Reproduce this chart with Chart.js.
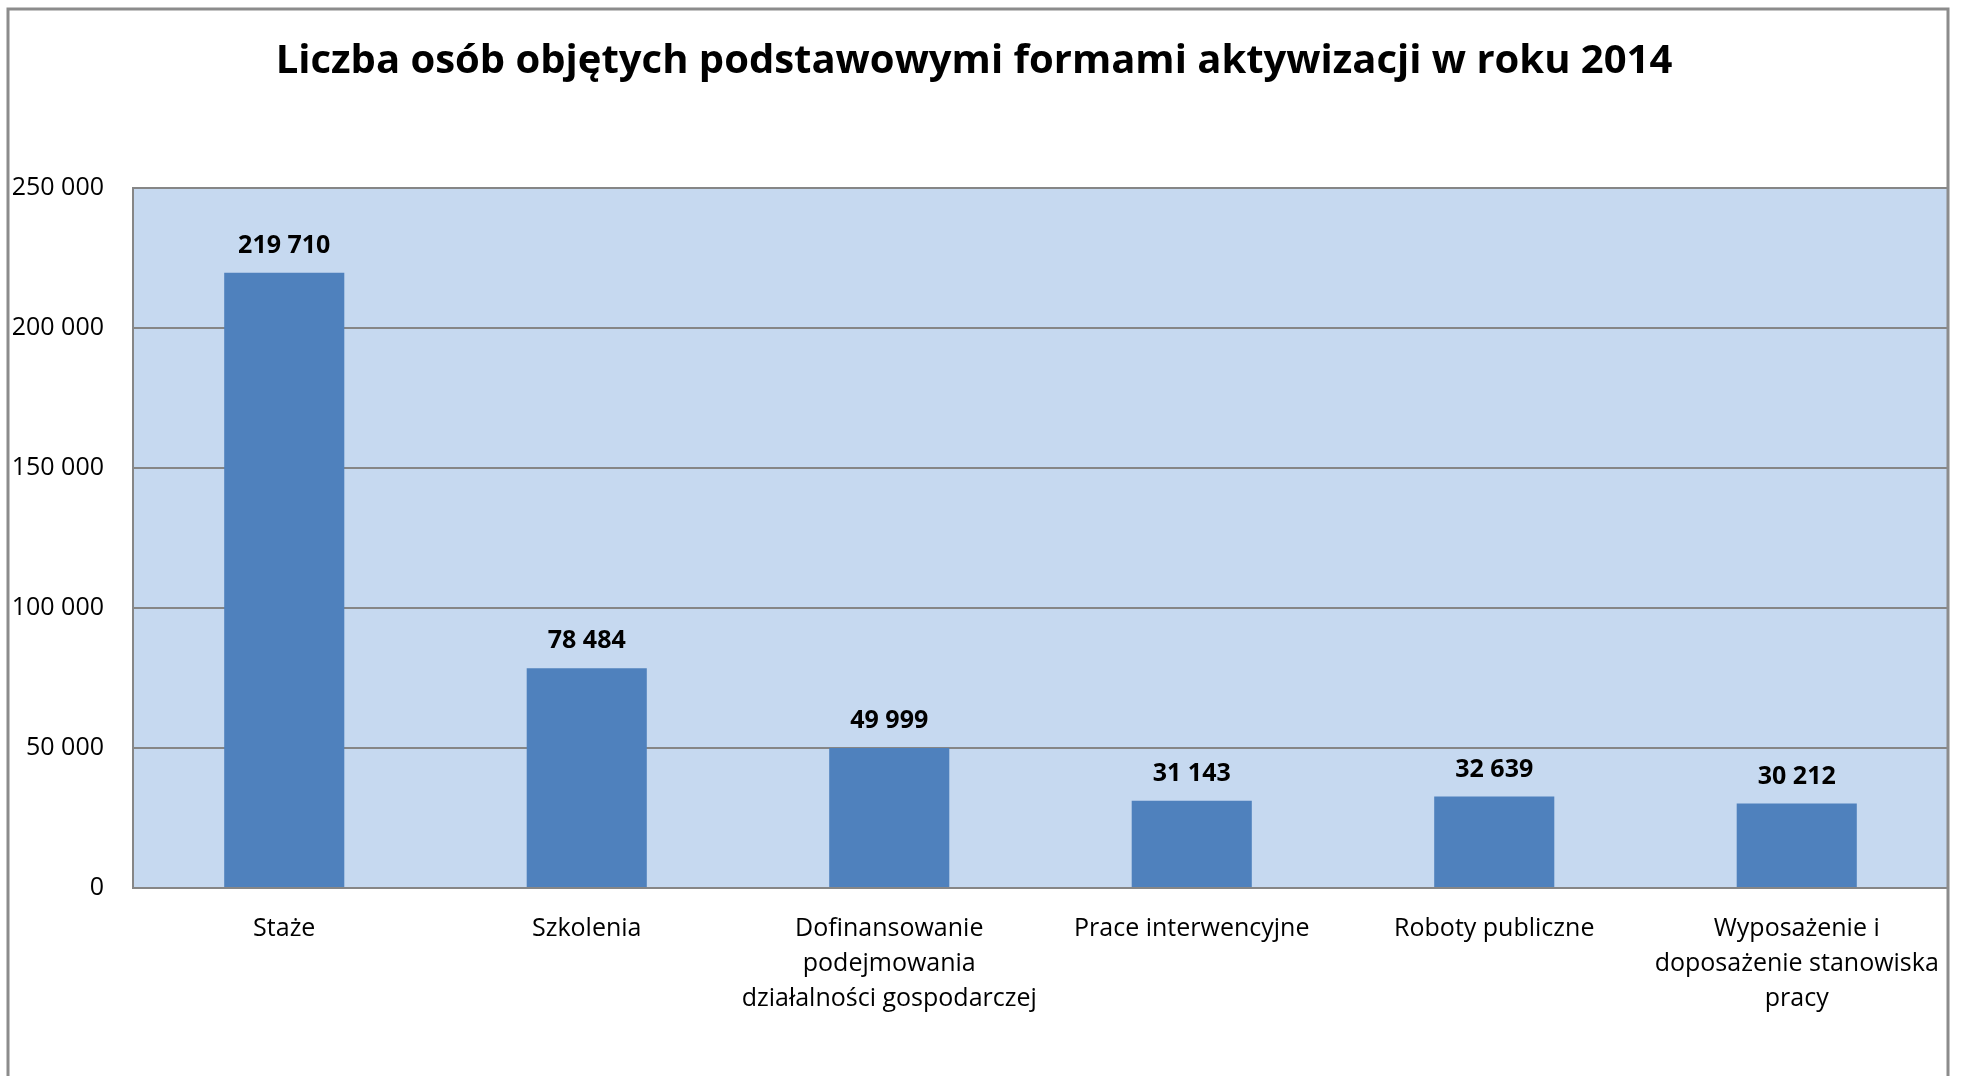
<!DOCTYPE html>
<html>
<head>
<meta charset="utf-8">
<script src="https://cdn.jsdelivr.net/npm/chart.js@4.4.1/dist/chart.umd.min.js"></script>
<style>
  html, body { margin: 0; padding: 0; background: #ffffff; }
  #wrap { width: 1962px; height: 1076px; position: relative; }
</style>
</head>
<body>
<div id="wrap"><canvas id="chart"></canvas></div>
<script>
// dane z wykresu
const kategorie = [
    "Staże",
    "Szkolenia",
    ["Dofinansowanie", "podejmowania", "działalności gospodarczej"],
    "Prace interwencyjne",
    "Roboty publiczne",
    ["Wyposażenie i", "doposażenie stanowiska", "pracy"]
]
const liczbaOsob = [219710, 78484, 49999, 31143, 32639, 30212]
const etykietyOsi = ["0", "50 000", "100 000", "150 000", "200 000", "250 000"]
const tytul = "Liczba osób objętych podstawowymi formami aktywizacji w roku 2014"

const FONT = "'Open Sans', 'Noto Sans', sans-serif"

const formatLiczby = v => String(v).replace(/\B(?=(\d{3})+(?!\d))/g, " ")

// tło obszaru wykresu + ramka
const tloPlugin = {
    id: "tlo",
    beforeDraw(chart) {
        const { ctx, chartArea } = chart
        ctx.save()
        ctx.fillStyle = "#C6D9F0"
        ctx.fillRect(chartArea.left, chartArea.top, chartArea.right - chartArea.left, chartArea.bottom - chartArea.top)
        ctx.restore()
    },
    afterDraw(chart) {
        const { ctx, chartArea } = chart
        ctx.save()
        ctx.strokeStyle = "#868686"
        ctx.lineWidth = 2
        ctx.strokeRect(chartArea.left, chartArea.top, chartArea.right - chartArea.left, chartArea.bottom - chartArea.top)
        // zewnętrzna ramka
        ctx.strokeStyle = "#8c8c8c"
        ctx.lineWidth = 3
        ctx.beginPath()
        ctx.moveTo(8, 1080)
        ctx.lineTo(8, 9)
        ctx.lineTo(chartArea.right, 9)
        ctx.lineTo(chartArea.right, 1080)
        ctx.stroke()
        ctx.restore()
    }
}

// etykiety wartości nad słupkami
const etykietyPlugin = {
    id: "etykiety",
    afterDatasetsDraw(chart) {
        const { ctx } = chart
        const meta = chart.getDatasetMeta(0)
        ctx.save()
        ctx.font = "bold 25px " + FONT
        ctx.fillStyle = "#000000"
        ctx.textAlign = "center"
        ctx.textBaseline = "middle"
        meta.data.forEach((bar, i) => {
            ctx.fillText(formatLiczby(liczbaOsob[i]), bar.x, bar.y - 27)
        })
        ctx.restore()
    }
}

new Chart(document.getElementById("chart"), {
    type: "bar",
    data: {
        labels: kategorie,
        datasets: [{
            data: liczbaOsob,
            backgroundColor: "#4F81BD",
            borderWidth: 0,
            categoryPercentage: 1,
            barPercentage: 0.397
        }]
    },
    options: {
        responsive: true,
        maintainAspectRatio: false,
        animation: false,
        layout: {
            padding: { left: 0, right: 14, top: 0, bottom: 0 }
        },
        plugins: {
            legend: { display: false },
            tooltip: { enabled: false },
            title: {
                display: true,
                text: tytul,
                color: "#000000",
                font: { family: FONT, size: 40, weight: "bold", lineHeight: 1.2 },
                padding: { top: 38, bottom: 102 }
            }
        },
        scales: {
            x: {
                grid: { display: false },
                border: { display: true, color: "#868686", width: 2 },
                ticks: {
                    color: "#000000",
                    font: { family: FONT, size: 25, lineHeight: 1.4 },
                    padding: 15,
                    maxRotation: 0,
                    autoSkip: false
                },
                afterFit(scale) { scale.height = 188 }
            },
            y: {
                min: 0,
                max: 250000,
                grid: { color: "#868686", lineWidth: 2, drawTicks: false },
                border: { display: true, color: "#868686", width: 2 },
                ticks: {
                    stepSize: 50000,
                    color: "#000000",
                    font: { family: FONT, size: 25 },
                    padding: 29,
                    callback: (v, i) => etykietyOsi[i]
                },
                afterFit(scale) { scale.width = 133 }
            }
        }
    },
    plugins: [tloPlugin, etykietyPlugin]
})
</script>
</body>
</html>
